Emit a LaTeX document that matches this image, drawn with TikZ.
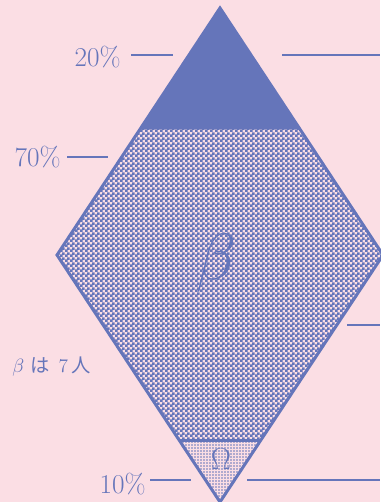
\documentclass[tikz,border=0pt]{standalone}
\usepackage{fontspec}
\newfontfamily\jpfont{Noto Sans CJK JP}
\usetikzlibrary{calc,patterns}

\definecolor{inkblue}{RGB}{101,117,186}
\definecolor{bgpink}{RGB}{251,222,228}

% checkerboard and fine dots for the two lower bands
\pgfdeclarepatternformonly{checker}{\pgfpointorigin}{\pgfpoint{1mm}{1mm}}{\pgfpoint{1mm}{1mm}}{
  \pgfpathrectangle{\pgfpointorigin}{\pgfpoint{0.6mm}{0.6mm}}
  \pgfpathrectangle{\pgfpoint{0.5mm}{0.5mm}}{\pgfpoint{0.6mm}{0.6mm}}
  \pgfusepath{fill}
}
\pgfdeclarepatternformonly{finedots}{\pgfpoint{-0.3mm}{-0.3mm}}{\pgfpoint{0.3mm}{0.3mm}}{\pgfpoint{0.6mm}{0.6mm}}{
  \pgfpathcircle{\pgfpointorigin}{0.17mm}
  \pgfusepath{fill}
}

\begin{document}
\begin{tikzpicture}[x=0.2mm,y=-0.2mm]
\tikzstyle{every node}+=[inner sep=0pt, text=inkblue]
\tikzstyle{tick}=[draw=inkblue, line width=0.4mm]
\tikzstyle{edge}=[draw=inkblue, line width=0.6mm, line join=miter]
\tikzstyle{pct}=[font=\fontsize{15.5}{18}\selectfont, anchor=east]
\fill [bgpink] (0,0) rectangle (380,502);
\useasboundingbox (0,0) rectangle (380,502);
% corners of the diamond and the two cuts
\coordinate (top) at (220,8);
\coordinate (left) at (57,255);
\coordinate (right) at (383,255);
\coordinate (bottom) at (220,502);
\coordinate (cutl) at ($(top)!0.482!(left)$);
\coordinate (cutr) at ($(top)!0.482!(right)$);
\coordinate (omgl) at ($(bottom)!0.247!(left)$);
\coordinate (omgr) at ($(bottom)!0.247!(right)$);
% bands
\fill [inkblue] (top) -- (cutl) -- (cutr) -- cycle;
\fill [pattern=checker, pattern color=inkblue] (cutl) -- (left) -- (omgl) -- (omgr) -- (right) -- (cutr) -- cycle;
\fill [pattern=finedots, pattern color=inkblue] (omgl) -- (bottom) -- (omgr) -- cycle;
\draw [edge] (top) -- (left) -- (bottom) -- (right) -- cycle;
\draw [edge] (cutl) -- (cutr);
\draw [edge] (omgl) -- (omgr);
\node [font=\Huge, scale=1.5] (beta) at (216,263) {$\beta$};
\node [font=\fontsize{18}{20}\selectfont] (omega) at (221,459) {$\Omega$};
% percentages
\node [pct] (p20) at (121,57) {20\%};
\node [pct] (p70) at (61,157) {70\%};
\node [pct] (p10) at (146,484) {10\%};
\coordinate (a20) at (131,55);
\coordinate (b20) at (173,55);
\coordinate (a70) at (67,157);
\coordinate (b70) at (108,157);
\coordinate (a10) at (150,480);
\coordinate (b10) at (191,480);
\draw [tick] (a20) -- (b20);
\draw [tick] (a70) -- (b70);
\draw [tick] (a10) -- (b10);
% ticks on the right
\coordinate (r20) at (282,55);
\coordinate (r30) at (347,325);
\coordinate (r10) at (247,480);
\draw [tick] (r20) -- (380,55);
\draw [tick] (r30) -- (380,325);
\draw [tick] (r10) -- (380,480);
\node [anchor=west, font=\fontsize{11}{13}\selectfont] (note) at (12,367)
  {$\beta$\hspace{3.5pt}{\jpfont は}\hspace{5pt}7\hspace{2pt}{\jpfont 人}};
\end{tikzpicture}
\end{document}
